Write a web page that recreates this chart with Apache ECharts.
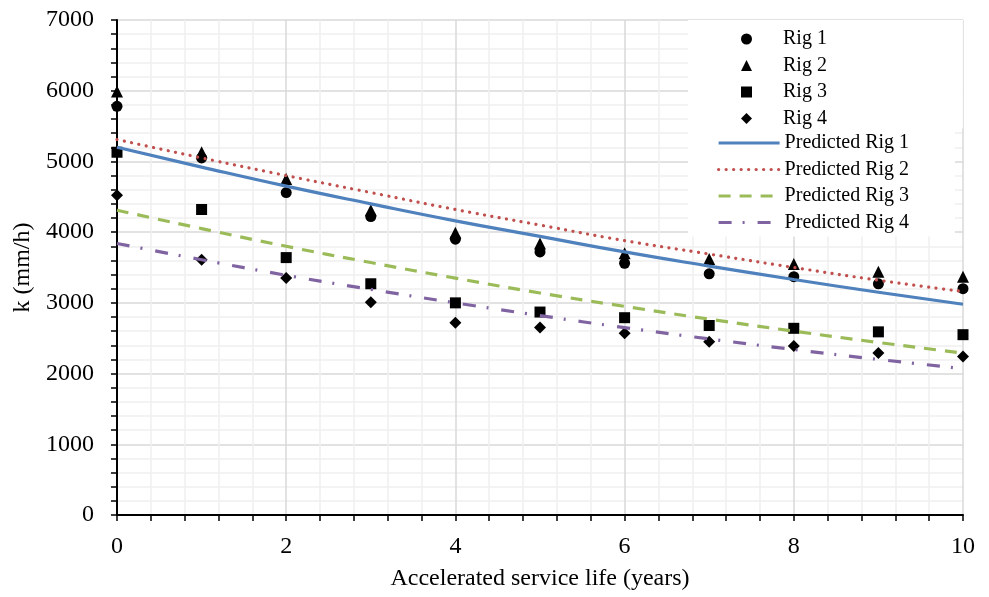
<!DOCTYPE html>
<html>
<head>
<meta charset="utf-8">
<script src="https://cdn.jsdelivr.net/npm/echarts@6/dist/echarts.min.js"></script>
<style>
html,body{margin:0;padding:0;background:#fff;}
#chart{width:989px;height:597px;}
</style>
</head>
<body>
<div id="chart"></div>
<script>
var years = [0, 1, 2, 3, 4, 5, 6, 7, 8, 9, 10];
var rig1 = [5780, 5050, 4560, 4220, 3900, 3720, 3560, 3410, 3370, 3270, 3200];
var rig2 = [5990, 5130, 4750, 4310, 3990, 3840, 3700, 3620, 3550, 3440, 3370];
var rig3 = [5130, 4320, 3640, 3270, 3000, 2870, 2790, 2680, 2640, 2590, 2550];
var rig4 = [4520, 3610, 3350, 3010, 2720, 2650, 2570, 2450, 2390, 2290, 2240];
var pred1 = [5200, 4920, 4650, 4400, 4160, 3940, 3720, 3520, 3330, 3150, 2980];
var pred2 = [5310, 5050, 4800, 4560, 4320, 4100, 3880, 3690, 3500, 3320, 3160];
var pred3 = [4310, 4050, 3800, 3570, 3350, 3140, 2950, 2770, 2600, 2440, 2290];
var pred4 = [3840, 3610, 3390, 3190, 3000, 2820, 2650, 2490, 2340, 2200, 2070];
var xTitle = 'Accelerated service life (years)';
var yTitle = 'k (mm/h)';
var scatterNames = ['Rig 1', 'Rig 2', 'Rig 3', 'Rig 4'];
var scatterSymbols = ['circle', 'triangle', 'rect', 'diamond'];
var lineNames = ['Predicted Rig 1', 'Predicted Rig 2', 'Predicted Rig 3', 'Predicted Rig 4'];

function pairs(v) { return years.map(function (x, i) { return [x, v[i]]; }); }

var font = '"Liberation Serif", "Times New Roman", serif';
var chart = echarts.init(document.getElementById('chart'), null, {renderer: 'canvas'});

function scatter(name, sym, size, data) {
  return {
    name: name, type: 'scatter', data: pairs(data), symbol: sym, symbolSize: size,
    itemStyle: {color: '#000', opacity: 1}, z: 2
  };
}
function line(name, color, type, cap, data) {
  return {
    name: name, type: 'line', data: pairs(data), smooth: true, symbol: 'none', showSymbol: false,
    lineStyle: {color: color, width: 3.2, type: type, cap: cap},
    itemStyle: {color: color}, z: 3
  };
}

var scatterLegendData = scatterNames.map(function (n, i) {
  return {name: n, icon: scatterSymbols[i]};
});

chart.setOption({
  animation: false,
  backgroundColor: '#fff',
  grid: {left: 117, right: 26, top: 20, bottom: 82, containLabel: false},
  legend: [{
    orient: 'vertical', left: 688, top: 20, align: 'left',
    padding: [9, 136, 0, 53],
    backgroundColor: '#fff',
    itemWidth: 11, itemHeight: 11, itemGap: 6.5,
    itemStyle: {color: '#000', opacity: 1},
    textStyle: {fontFamily: font, fontSize: 20, color: '#000', lineHeight: 20, padding: [0, 0, 0, 26]},
    data: scatterLegendData
  }, {
    orient: 'vertical', left: 688, top: 128.5, align: 'left',
    padding: [4.5, 46, 4, 29],
    backgroundColor: '#fff',
    itemWidth: 61, itemHeight: 11, itemGap: 6.5,
    itemStyle: {opacity: 0},
    lineStyle: {width: 3.2},
    textStyle: {fontFamily: font, fontSize: 20, color: '#000', lineHeight: 20},
    data: lineNames
  }],
  xAxis: {
    type: 'value', min: 0, max: 10, interval: 2,
    name: xTitle, nameLocation: 'middle', nameGap: 52,
    nameTextStyle: {fontFamily: font, fontSize: 24, color: '#000'},
    axisLine: {show: true, lineStyle: {color: '#000', width: 2}},
    axisTick: {show: true, inside: false, length: 6, lineStyle: {color: '#000', width: 1.5}},
    minorTick: {show: true, splitNumber: 5, length: 6, lineStyle: {color: '#000', width: 1.5}},
    axisLabel: {fontFamily: font, fontSize: 24, color: '#000', margin: 20},
    splitLine: {show: true, lineStyle: {color: '#D9D9D9', width: 1.5}},
    minorSplitLine: {show: true, lineStyle: {color: '#EFEFEF', width: 1.5}}
  },
  yAxis: {
    type: 'value', min: 0, max: 7000, interval: 1000,
    name: yTitle, nameLocation: 'middle', nameGap: 61, nameRotate: 90,
    nameTextStyle: {fontFamily: font, fontSize: 24, color: '#000'},
    axisLine: {show: true, lineStyle: {color: '#000', width: 2}},
    axisTick: {show: true, inside: false, length: 6, lineStyle: {color: '#000', width: 1.5}},
    minorTick: {show: true, splitNumber: 5, length: 6, lineStyle: {color: '#000', width: 1.5}},
    axisLabel: {fontFamily: font, fontSize: 24, color: '#000', margin: 23,
      formatter: function (v) { return String(v); }},
    splitLine: {show: true, lineStyle: {color: '#D9D9D9', width: 1.5}},
    minorSplitLine: {show: true, lineStyle: {color: '#EFEFEF', width: 1.5}}
  },
  series: [
    scatter('Rig 1', 'circle', 11, rig1),
    scatter('Rig 2', 'triangle', 12, rig2),
    scatter('Rig 3', 'rect', 11, rig3),
    scatter('Rig 4', 'diamond', 12, rig4),
    line('Predicted Rig 1', '#4F81BD', 'solid', 'butt', pred1),
    line('Predicted Rig 2', '#C0504D', [0.1, 7.4], 'round', pred2),
    line('Predicted Rig 3', '#9BBB59', [12, 9], 'butt', pred3),
    line('Predicted Rig 4', '#8064A2', [13, 11, 2, 13], 'butt', pred4)
  ]
});
</script>
</body>
</html>
